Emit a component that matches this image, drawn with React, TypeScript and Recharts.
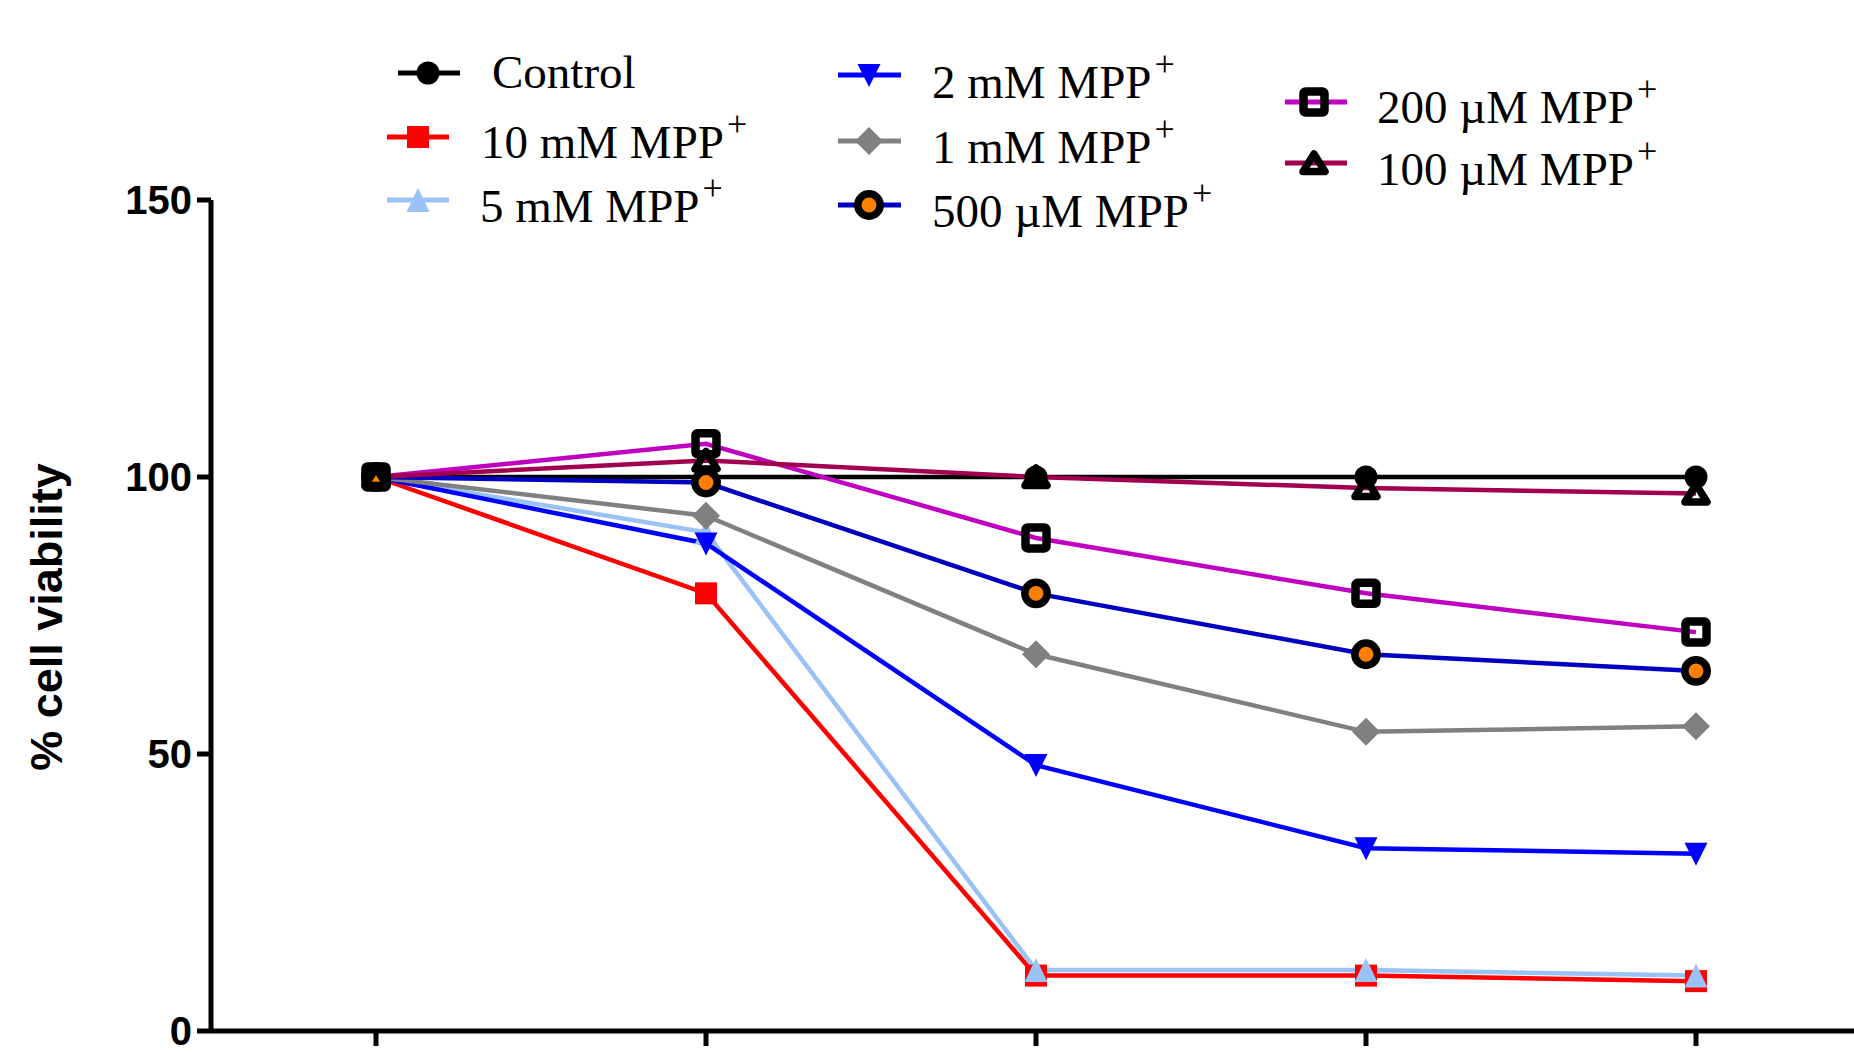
import React from 'react';
import { LineChart, Line, XAxis, YAxis, Legend, Label } from 'recharts';

// ---- data ----
const timePoints = [1, 2, 3, 4, 5];
const yTicks = [0, 50, 100, 150];
const control = [100, 100, 100, 100, 100];
const mpp10mM = [100, 79, 10, 10, 9];
const mpp5mM = [100, 90, 11, 11, 10];
const mpp2mM = [100, 88, 48, 33, 32];
const mpp1mM = [100, 93, 68, 54, 55];
const mpp500uM = [100, 99, 79, 68, 65];
const mpp200uM = [100, 106, 89, 79, 72];
const mpp100uM = [100, 103, 100, 98, 97];

const seriesNames = [
  'Control',
  '10 mM MPP',
  '5 mM MPP',
  '2 mM MPP',
  '1 mM MPP',
  '500 \u00B5M MPP',
  '200 \u00B5M MPP',
  '100 \u00B5M MPP',
];
const seriesValues = [control, mpp10mM, mpp5mM, mpp2mM, mpp1mM, mpp500uM, mpp200uM, mpp100uM];
const seriesKeys = ['control', 'm10', 'm5', 'm2', 'm1', 'u500', 'u200', 'u100'];

const data = timePoints.map((t, i) => {
  const row: any = { x: t };
  seriesKeys.forEach((k, s) => {
    row[k] = seriesValues[s][i];
  });
  return row;
});

// ---- styles ----
const styles = [
  { color: '#000000', shape: 'circle' },
  { color: '#FF0000', shape: 'square' },
  { color: '#99C2F7', shape: 'triUp' },
  { color: '#0000FF', shape: 'triDown' },
  { color: '#808080', shape: 'diamond' },
  { color: '#0000C0', shape: 'ringOrange' },
  { color: '#C000C0', shape: 'openSquare' },
  { color: '#A0004E', shape: 'openTri' },
];

const legendLayout = [
  { lx1: 398, lx2: 460, mx: 428, my: 73, tx: 492, ty: 88, sup: false },
  { lx1: 387, lx2: 449, mx: 418, my: 137, tx: 481, ty: 158, sup: true },
  { lx1: 387, lx2: 449, mx: 418, my: 200, tx: 480, ty: 222, sup: true },
  { lx1: 838, lx2: 901, mx: 869, my: 75, tx: 932, ty: 98, sup: true },
  { lx1: 838, lx2: 901, mx: 869, my: 141, tx: 932, ty: 163, sup: true },
  { lx1: 838, lx2: 901, mx: 869, my: 205, tx: 932, ty: 227, sup: true },
  { lx1: 1285, lx2: 1347, mx: 1314, my: 102, tx: 1377, ty: 123, sup: true },
  { lx1: 1285, lx2: 1347, mx: 1314, my: 163, tx: 1377, ty: 185, sup: true },
];

function Marker({ shape, color, cx, cy }: { shape: string; color: string; cx: number; cy: number }) {
  if (cx == null || cy == null || isNaN(cx) || isNaN(cy)) return null;
  switch (shape) {
    case 'circle':
      return <circle cx={cx} cy={cy} r={11.5} fill="#000" />;
    case 'square':
      return <rect x={cx - 11} y={cy - 11} width={22} height={22} fill={color} />;
    case 'triUp':
      return (
        <polygon
          points={`${cx},${cy - 12} ${cx + 11.5},${cy + 12} ${cx - 11.5},${cy + 12}`}
          fill={color}
        />
      );
    case 'triDown':
      return (
        <polygon
          points={`${cx},${cy + 12} ${cx + 11.5},${cy - 11} ${cx - 11.5},${cy - 11}`}
          fill={color}
        />
      );
    case 'diamond':
      return (
        <polygon
          points={`${cx},${cy - 14} ${cx + 14},${cy} ${cx},${cy + 14} ${cx - 14},${cy}`}
          fill={color}
        />
      );
    case 'ringOrange':
      return <circle cx={cx} cy={cy} r={11.2} fill="#FF8000" stroke="#000" strokeWidth={7.5} />;
    case 'openSquare':
      return (
        <rect
          x={cx - 10.5}
          y={cy - 10.5}
          width={21}
          height={21}
          rx={2}
          fill="none"
          stroke="#000"
          strokeWidth={8.5}
          strokeLinejoin="round"
        />
      );
    case 'openTri':
      return (
        <polygon
          points={`${cx},${cy - 9} ${cx + 11},${cy + 8.5} ${cx - 11},${cy + 8.5}`}
          fill="none"
          stroke="#000"
          strokeWidth={7.5}
          strokeLinejoin="round"
        />
      );
    default:
      return null;
  }
}

function makeDot(s: number) {
  return (p: any) => (
    <Marker key={`${seriesKeys[s]}-${p.index}`} shape={styles[s].shape} color={styles[s].color} cx={p.cx} cy={p.cy} />
  );
}

function LegendBlock() {
  return (
    <svg width={1870} height={260} style={{ display: 'block' }}>
      {seriesNames.map((name, i) => {
        const L = legendLayout[i];
        const st = styles[i];
        return (
          <g key={name}>
            <line x1={L.lx1} x2={L.lx2} y1={L.my} y2={L.my} stroke={st.color} strokeWidth={5} />
            <Marker shape={st.shape} color={st.color} cx={L.mx} cy={L.my} />
            <text
              x={L.tx}
              y={L.ty}
              fontFamily="'Liberation Serif', 'Times New Roman', serif"
              fontSize={47}
              fill="#000"
            >
              {name}
              {L.sup ? (
                <tspan dx={3} dy={-22} fontSize={36}>
                  +
                </tspan>
              ) : null}
            </text>
          </g>
        );
      })}
    </svg>
  );
}

function YLabel() {
  return (
    <text
      x={62}
      y={617}
      transform="rotate(-90, 62, 617)"
      textAnchor="middle"
      fontFamily="'Liberation Sans', Arial, sans-serif"
      fontWeight="bold"
      fontSize={45}
      fill="#000"
    >
      % cell viability
    </text>
  );
}

export default function App() {
  return (
    <div
      style={{
        position: 'fixed',
        left: 0,
        top: 0,
        width: 1854,
        height: 1052,
        overflow: 'hidden',
        background: '#fff',
      }}
    >
      <LineChart
        width={1870}
        height={1070}
        data={data}
        margin={{ top: 200, right: 9, bottom: 0, left: 0 }}
      >
        <XAxis
          dataKey="x"
          type="number"
          domain={[0.5, 5.5]}
          ticks={timePoints}
          height={39}
          tickSize={15}
          tickFormatter={() => ''}
          axisLine={{ stroke: '#000', strokeWidth: 5 }}
          tickLine={{ stroke: '#000', strokeWidth: 5 }}
        />
        <YAxis
          type="number"
          domain={[0, 150]}
          ticks={yTicks}
          width={211}
          tickSize={14}
          tickMargin={5}
          axisLine={{ stroke: '#000', strokeWidth: 5 }}
          tickLine={{ stroke: '#000', strokeWidth: 5 }}
          tick={{
            fill: '#000',
            fontSize: 40,
            fontWeight: 900,
            fontFamily: "'Liberation Sans', Arial, sans-serif",
          }}
        >
          <Label content={() => <YLabel />} />
        </YAxis>
        <Legend
          verticalAlign="middle"
          align="center"
          layout="horizontal"
          content={() => <LegendBlock />}
          wrapperStyle={{ position: 'absolute', left: 0, top: 0, width: 1870, height: 260, margin: 0 }}
        />
        {seriesKeys.map((k, s) => (
          <Line
            key={k}
            dataKey={k}
            name={seriesNames[s]}
            stroke={styles[s].color}
            strokeWidth={4.5}
            dot={makeDot(s)}
            activeDot={false}
            isAnimationActive={false}
            type="linear"
          />
        ))}
      </LineChart>
    </div>
  );
}
